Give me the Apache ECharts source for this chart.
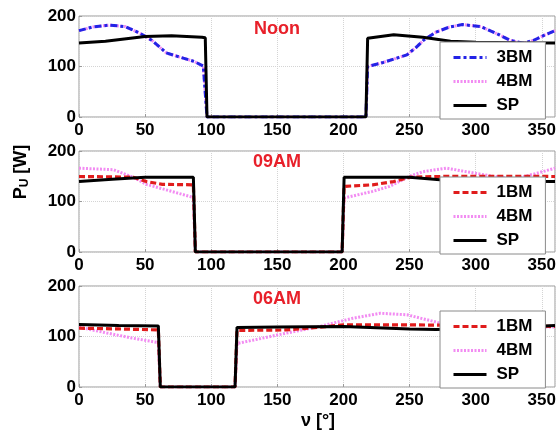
<!DOCTYPE html>
<html>
<head>
<meta charset="utf-8">
<script src="https://cdn.jsdelivr.net/npm/echarts@6/dist/echarts.min.js"></script>
<style>
  html, body { margin: 0; padding: 0; background: #ffffff; }
  #chart { width: 560px; height: 438px; }
</style>
</head>
<body>
<div id="chart"></div>
<script>
// Useful power P_U [W] versus angle ν [°] for three times of day.

// ---- Noon ----
const noonSpAngle = [0, 20, 50, 70, 93, 95.5, 96.8, 217, 218.3, 238, 260, 281, 300, 330, 360];
const noonSpPower = [146.5, 150, 159.5, 161, 158, 157, 0, 0, 156, 163, 158, 150, 148, 147, 146.5];
const noonBmAngle = [0, 10, 23, 35, 46, 55, 66, 77, 87, 94, 96.8, 217, 218.3, 230, 242, 248, 255, 261, 270, 280, 290, 304, 316, 326, 336, 344, 352, 360];
const noon3bmPower = [171, 178, 182, 179, 166, 152, 127, 118, 110, 101, 0, 0, 100, 108, 118, 123, 138, 153, 168, 178, 183, 179, 165, 152, 146, 152, 162, 171];
const noon4bmPower = [171, 178, 182, 179, 166, 152, 127, 118, 110, 101, 0, 0, 100, 108, 118, 123, 138, 153, 168, 178, 183, 179, 165, 152, 146, 152, 162, 171];

// ---- 09AM ----
const am9SpAngle = [0, 25, 50, 86.5, 88, 199, 200.5, 225, 250, 273, 300, 330, 360];
const am9SpPower = [139.5, 144, 148, 148, 0, 0, 148, 148, 148, 143, 141, 140, 139.5];
const am9Bm1Angle = [0, 20, 41, 51, 63, 86.5, 88, 199, 200.5, 222, 238, 250, 280, 320, 360];
const am9Bm1Power = [149.5, 149, 148, 139.5, 134, 133, 0, 0, 130, 133, 139.5, 148, 150, 150, 149.5];
const am9Bm4Angle = [0, 26, 41, 51, 66, 86.5, 88, 199, 200.5, 222, 235, 250, 260, 278, 293, 313, 330, 345, 360];
const am9Bm4Power = [166, 163, 148, 134, 123, 108, 0, 0, 107, 120, 130, 150, 159, 166, 159, 150, 145, 155, 166];

// ---- 06AM ----
const am6SpAngle = [0, 30, 60, 61.5, 118, 119.5, 150, 200, 250, 270, 300, 330, 360];
const am6SpPower = [124, 122, 121, 0, 0, 118, 119, 120, 115, 114, 116, 118, 122];
const am6Bm1Angle = [0, 30, 60, 61.5, 118, 119.5, 156, 180, 200, 250, 300, 360];
const am6Bm1Power = [116.5, 115, 113, 0, 0, 112, 113, 118, 123, 123, 122, 120];
const am6Bm4Angle = [0, 21, 40, 60, 61.5, 118, 119.5, 150, 182, 207, 228, 248, 268, 283, 310, 340, 360];
const am6Bm4Power = [118.6, 107, 97, 88, 0, 0, 86, 103, 120, 136, 146, 143, 130, 120, 118, 118, 119];

// Axis ticks and labels
const angleTicks = { min: 0, max: 360, interval: 50 };
const powerTicks = { min: 0, max: 200, interval: 100 };
const panelTitles = ['Noon', '09AM', '06AM'];
const legendNoon = ['3BM', '4BM', 'SP'];
const legendMorning = ['1BM', '4BM', 'SP'];

const FONT = 'Liberation Sans, Arial, Helvetica, sans-serif';
const zip = (xs, ys) => xs.map((x, i) => [x, ys[i]]);

const styleOf = {
  'SP':  { color: '#000000', width: 3, type: 'solid' },
  '3BM': { color: '#2323e6', width: 3, type: [7, 3, 3, 3] },
  '4BM': { color: '#f28cf2', width: 3, type: [2, 1.5] },
  '1BM': { color: '#e01c1c', width: 3.2, type: [6, 3] }
};

const gridTops = [16, 151, 286];
const gridH = 101;
const gridLeft = 79;
const gridW = 476;

const grids = gridTops.map(t => ({
  left: gridLeft, top: t, width: gridW, height: gridH,
  show: true, borderColor: '#9a9a9a', borderWidth: 1, backgroundColor: '#ffffff'
}));

const xAxes = gridTops.map((t, i) => ({
  type: 'value', gridIndex: i,
  min: angleTicks.min, max: angleTicks.max, interval: angleTicks.interval,
  axisLine: { show: false },
  axisTick: { show: true, inside: true, length: 3, lineStyle: { color: '#9a9a9a' } },
  axisLabel: { color: '#000', fontFamily: FONT, fontWeight: 'bold', fontSize: 17, margin: 5 },
  splitLine: { show: true, lineStyle: { color: '#d4d4d4', type: 'dotted', width: 1 } }
}));

const yAxes = gridTops.map((t, i) => ({
  type: 'value', gridIndex: i,
  min: powerTicks.min, max: powerTicks.max, interval: powerTicks.interval,
  axisLine: { show: false },
  axisTick: { show: true, inside: true, length: 3, lineStyle: { color: '#9a9a9a' } },
  axisLabel: { color: '#000', fontFamily: FONT, fontWeight: 'bold', fontSize: 17, margin: 3 },
  splitLine: { show: true, lineStyle: { color: '#d4d4d4', type: 'dotted', width: 1 } }
}));

// Series are drawn in list order: 4BM underneath, then 1BM/3BM, SP on top.
function line(name, idx, angles, power) {
  const s = styleOf[name];
  return {
    type: 'line', name: name, xAxisIndex: idx, yAxisIndex: idx,
    data: zip(angles, power), symbol: 'none', smooth: false,
    lineStyle: { color: s.color, width: s.width, type: s.type },
    itemStyle: { color: s.color },
    z: 2
  };
}

const series = [
  line('4BM', 0, noonBmAngle, noon4bmPower),
  line('3BM', 0, noonBmAngle, noon3bmPower),
  line('SP', 0, noonSpAngle, noonSpPower),
  line('4BM', 1, am9Bm4Angle, am9Bm4Power),
  line('1BM', 1, am9Bm1Angle, am9Bm1Power),
  line('SP', 1, am9SpAngle, am9SpPower),
  line('4BM', 2, am6Bm4Angle, am6Bm4Power),
  line('1BM', 2, am6Bm1Angle, am6Bm1Power),
  line('SP', 2, am6SpAngle, am6SpPower)
];

const legendTops = [42, 177, 311];
const legends = legendTops.map((t, i) => ({
  data: i === 0 ? legendNoon : legendMorning,
  orient: 'vertical', left: 440, top: t,
  padding: [7, 13, 5, 12], itemGap: 7,
  itemWidth: 33, itemHeight: 14,
  itemStyle: { opacity: 0 },
  lineStyle: { width: 3 },
  backgroundColor: '#ffffff', borderColor: '#8a8a8a', borderWidth: 1, borderRadius: 0,
  selectedMode: false,
  z: 6,
  textStyle: { color: '#000', fontFamily: FONT, fontWeight: 'bold', fontSize: 17, width: 40, padding: [0, 0, 0, 5] }
}));

const titleY = [29, 162, 299];
const graphics = panelTitles.map((txt, i) => ({
  type: 'text', x: 277, y: titleY[i], z: 10,
  style: {
    text: txt, fill: '#e8202a', font: 'bold 18px ' + FONT,
    textAlign: 'center', textVerticalAlign: 'middle'
  }
}));

graphics.push({
  type: 'text', x: 318, y: 421, z: 10,
  style: {
    text: 'ν [°]', fill: '#000', font: 'bold 18px ' + FONT,
    textAlign: 'center', textVerticalAlign: 'middle'
  }
});

graphics.push({
  type: 'text', x: 21, y: 172, rotation: Math.PI / 2, z: 10,
  style: {
    text: '{a|P}{b|U}{a| [W]}',
    textAlign: 'center', textVerticalAlign: 'middle',
    rich: {
      a: { fontFamily: FONT, fontWeight: 'bold', fontSize: 18, fill: '#000', color: '#000' },
      b: { fontFamily: FONT, fontWeight: 'bold', fontSize: 12, fill: '#000', color: '#000', padding: [8, 0, 0, 0] }
    }
  }
});

const chart = echarts.init(document.getElementById('chart'), null, { renderer: 'canvas' });
chart.setOption({
  animation: false,
  backgroundColor: '#ffffff',
  grid: grids,
  xAxis: xAxes,
  yAxis: yAxes,
  legend: legends,
  series: series,
  graphic: graphics
});
</script>
</body>
</html>
